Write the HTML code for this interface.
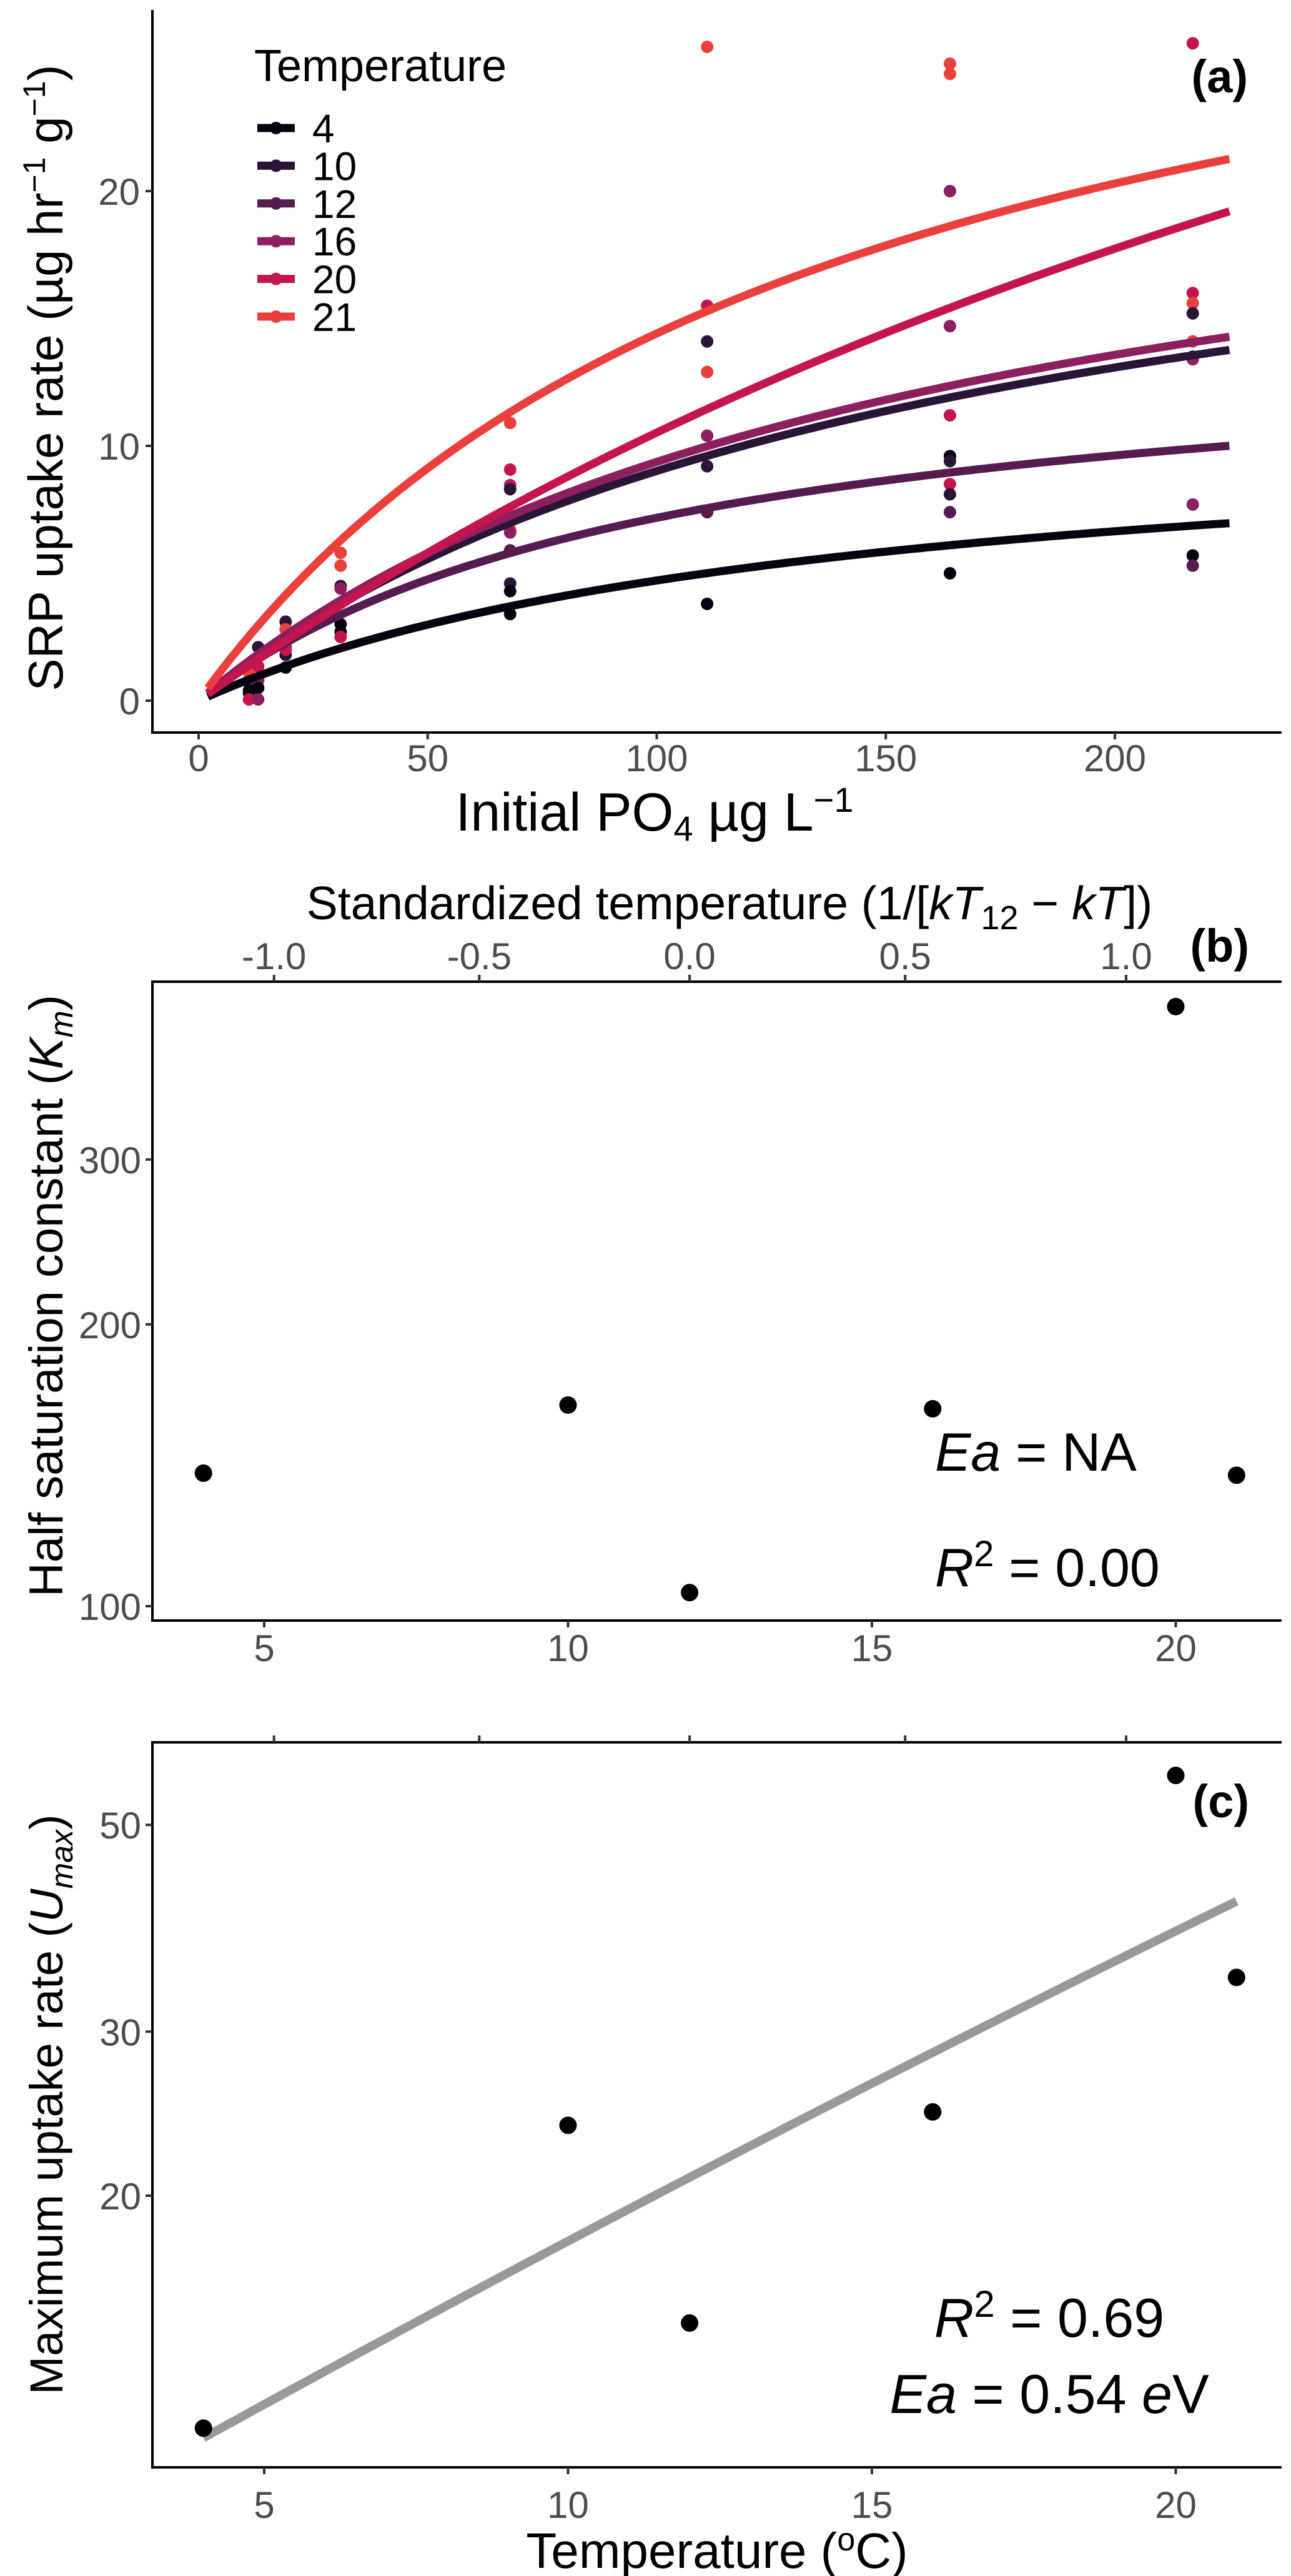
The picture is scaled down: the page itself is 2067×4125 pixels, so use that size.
<!DOCTYPE html>
<html><head><meta charset="utf-8">
<style>
html,body{margin:0;padding:0;background:#fff;}
svg{display:block;font-family:"Liberation Sans",Arial,sans-serif;}
.tick{fill:#4d4d4d;font-size:60px;}
.title{fill:#000;font-size:74px;}
</style></head>
<body>
<svg id="fig" width="2067" height="4125" viewBox="0 0 2067 4125" xmlns="http://www.w3.org/2000/svg">
<g id="pa"></g>
<g id="pb"></g>
<g id="pc"></g>
</svg>
<script>
// ---------- data ----------
const temps = [4, 10, 12, 16, 20, 21];
const tempColors = ["#05030f", "#2b1537", "#561c4f", "#8e1f5e", "#c4154f", "#e9403e"];
const kmValues = [138.7, 164, 103.4, 162.5, 437, 138];
const umaxValues = [11.26, 23.8, 14.6, 24.6, 56.5, 34.3];
// scatter points panel a: [initial PO4, temperature, uptake]
const obsX = [11,11,11,11,11, 13,13,13,13,13, 19,19,19,19,19,19, 31,31,31,31,31,31,31,
  68,68,68,68,68,68,68,68,68,68, 111,111,111,111,111,111,111,111,
  164,164,164,164,164,164,164,164,164,164,164, 217,217,217,217,217,217,217,217,217,217];
const obsT = [21,12,4,4,20, 10,20,16,4,16, 10,21,16,10,4,20, 21,21,10,16,4,4,20,
  21,20,20,10,21,16,12,10,4,4, 21,20,10,21,16,10,12,4,
  21,21,16,16,20,4,10,20,10,12,4, 20,20,21,10,21,4,16,16,4,12];
const obsY = [1.1,0.7,0.4,0.3,0.05, 2.1,1.35,0.8,0.5,0.05, 3.1,2.8,2.1,1.8,1.3,2.0, 5.8,5.3,4.5,4.4,3.0,2.7,2.5,
  10.9,9.07,8.46,8.3,6.7,6.6,5.9,4.6,4.3,3.4, 25.66,15.5,14.1,12.9,10.4,9.2,7.4,3.8,
  25.0,24.6,20.0,14.7,11.2,9.6,9.4,8.5,8.1,7.4,5.0, 25.8,16.0,15.6,15.2,14.1,13.5,13.4,7.7,5.7,5.3];
const aXTicks = [0, 50, 100, 150, 200];
const aYTicks = [0, 10, 20];
const bcXTicks = [5, 10, 15, 20];
const stdTicks = [-1.0, -0.5, 0.0, 0.5, 1.0];
const stdTickLabels = ["-1.0", "-0.5", "0.0", "0.5", "1.0"];
const bYTicks = [100, 200, 300];
const cYTicks = [20, 30, 50];

// ---------- helpers ----------
const NS = "http://www.w3.org/2000/svg";
function mk(parent, tag, attrs, text){
  const e = document.createElementNS(NS, tag);
  for (const k in attrs) e.setAttribute(k, attrs[k]);
  if (text !== undefined) e.textContent = text;
  parent.appendChild(e);
  return e;
}
const L = 244, R = 2052;
const ax = v => 318 + v * 7.335;
const ay = v => 1122 - v * 40.8;
const tx = T => 423 + (T - 5) * 97.3;
const by = v => 2572 - 651 * Math.log(v / 100);
const cy = v => 3516 - 648 * Math.log(v / 20);
const kB = 8.617e-5, T12K = 285.15;
const stdToT = s => 1 / (kB * (1 / (kB * T12K) - s)) - 273.15;
const tToStd = T => 1 / (kB * T12K) - 1 / (kB * (T + 273.15));

// ---------- panel a ----------
const pa = document.getElementById('pa');
let e;
e = mk(pa, 'path', {d:`M${L},16 V1173 H${R}`, fill:'none', stroke:'#000', 'stroke-width':4});


aYTicks.forEach(v => {
  e = mk(pa, 'line', {x1:L-11, x2:L, y1:ay(v), y2:ay(v), stroke:'#333', 'stroke-width':4});
  
  
  e = mk(pa, 'text', {x:L-20, y:ay(v)+22, 'text-anchor':'end', class:'tick'}, String(v));
  
  
});
aXTicks.forEach(v => {
  e = mk(pa, 'line', {x1:ax(v), x2:ax(v), y1:1173, y2:1184, stroke:'#333', 'stroke-width':4});
  
  
  e = mk(pa, 'text', {x:ax(v), y:1235, 'text-anchor':'middle', class:'tick'}, String(v));
  
  
});
obsX.forEach((x, i) => {
  const ci = temps.indexOf(obsT[i]);
  e = mk(pa, 'circle', {cx:ax(x), cy:ay(obsY[i]), r:10, fill:tempColors[ci]});
  
  
});
temps.forEach((T, i) => {
  let d = '';
  for (let s = 2; s <= 225; s += 1) {
    const u = umaxValues[i] * s / (kmValues[i] + s);
    d += (s === 2 ? 'M' : 'L') + ax(s).toFixed(1) + ',' + ay(u).toFixed(1);
  }
  e = mk(pa, 'path', {d:d, fill:'none', stroke:tempColors[i], 'stroke-width':13});
  
  
});
e = mk(pa, 'text', {x:407, y:130, style:'font-size:72px'}, 'Temperature');


temps.forEach((T, i) => {
  const yy = 205 + i * 60.4;
  e = mk(pa, 'line', {x1:412, x2:472, y1:yy, y2:yy, stroke:tempColors[i], 'stroke-width':13});
  
  
  e = mk(pa, 'circle', {cx:442, cy:yy, r:10, fill:tempColors[i]});
  
  
  e = mk(pa, 'text', {x:500, y:yy+23, style:'font-size:64px'}, String(T));
  
  
});
e = mk(pa, 'text', {x:1998, y:148, 'text-anchor':'end', style:'font-size:74px;font-weight:bold'}, '(a)');


e = mk(pa, 'text', {x:0, y:0, transform:'translate(100,605) rotate(-90)', 'text-anchor':'middle', class:'title', style:'font-size:78px'});
e.innerHTML = 'SRP uptake rate (µg hr<tspan dy="-28" font-size="50">−1</tspan><tspan dy="28"> g</tspan><tspan dy="-28" font-size="50">−1</tspan><tspan dy="28">)</tspan>';


e = mk(pa, 'text', {x:1048, y:1330, 'text-anchor':'middle', class:'title', style:'font-size:86px'});
e.innerHTML = 'Initial PO<tspan dy="16" font-size="56">4</tspan><tspan dy="-16"> µg L</tspan><tspan dy="-30" font-size="56">−1</tspan>';



// ---------- panel b ----------
const pb = document.getElementById('pb');
e = mk(pb, 'path', {d:`M${R},1572 H${L} V2595 H${R}`, fill:'none', stroke:'#000', 'stroke-width':4});


stdTicks.forEach((s, i) => {
  const x = tx(stdToT(s));
  e = mk(pb, 'line', {x1:x, x2:x, y1:1561, y2:1572, stroke:'#333', 'stroke-width':4});
  
  
  e = mk(pb, 'text', {x:x, y:1552, 'text-anchor':'middle', class:'tick'}, stdTickLabels[i]);
  
  
});
bcXTicks.forEach(v => {
  e = mk(pb, 'line', {x1:tx(v), x2:tx(v), y1:2595, y2:2606, stroke:'#333', 'stroke-width':4});
  
  
  e = mk(pb, 'text', {x:tx(v), y:2660, 'text-anchor':'middle', class:'tick'}, String(v));
  
  
});
bYTicks.forEach(v => {
  e = mk(pb, 'line', {x1:L-11, x2:L, y1:by(v), y2:by(v), stroke:'#333', 'stroke-width':4});
  
  
  e = mk(pb, 'text', {x:L-18, y:by(v)+22, 'text-anchor':'end', class:'tick'}, String(v));
  
  
});
temps.forEach((T, i) => {
  e = mk(pb, 'circle', {cx:tx(T), cy:by(kmValues[i]), r:14, fill:'#000'});
  
  
});
e = mk(pb, 'text', {x:1168, y:1472, 'text-anchor':'middle', class:'title', style:'font-size:75px'});
e.innerHTML = 'Standardized temperature (1/[<tspan font-style="italic">kT</tspan><tspan dy="16" font-size="54">12</tspan><tspan dy="-16"> − </tspan><tspan font-style="italic">kT</tspan>])';


e = mk(pb, 'text', {x:2000, y:1540, 'text-anchor':'end', style:'font-size:74px;font-weight:bold'}, '(b)');


e = mk(pb, 'text', {x:0, y:0, transform:'translate(100,2075) rotate(-90)', 'text-anchor':'middle', class:'title', style:'font-size:76px'});
e.innerHTML = 'Half saturation constant (<tspan font-style="italic">K</tspan><tspan dy="16" font-size="52" font-style="italic">m</tspan><tspan dy="-16">)</tspan>';


e = mk(pb, 'text', {x:1497, y:2355, style:'font-size:86px'});
e.innerHTML = '<tspan font-style="italic">Ea</tspan> = NA';


e = mk(pb, 'text', {x:1497, y:2540, style:'font-size:86px'});
e.innerHTML = '<tspan font-style="italic">R</tspan><tspan dy="-32" font-size="58">2</tspan><tspan dy="32"> = 0.00</tspan>';



// ---------- panel c ----------
const pc = document.getElementById('pc');
e = mk(pc, 'path', {d:`M${R},2790 H${L} V3951 H${R}`, fill:'none', stroke:'#000', 'stroke-width':4});


stdTicks.forEach(s => {
  const x = tx(stdToT(s));
  e = mk(pc, 'line', {x1:x, x2:x, y1:2779, y2:2790, stroke:'#333', 'stroke-width':4});
  
  
});
bcXTicks.forEach(v => {
  e = mk(pc, 'line', {x1:tx(v), x2:tx(v), y1:3951, y2:3962, stroke:'#333', 'stroke-width':4});
  
  
  e = mk(pc, 'text', {x:tx(v), y:4032, 'text-anchor':'middle', class:'tick'}, String(v));
  
  
});
cYTicks.forEach(v => {
  e = mk(pc, 'line', {x1:L-11, x2:L, y1:cy(v), y2:cy(v), stroke:'#333', 'stroke-width':4});
  
  
  e = mk(pc, 'text', {x:L-18, y:cy(v)+22, 'text-anchor':'end', class:'tick'}, String(v));
  
  
});
(function(){
  const xs = temps.map(tToStd), ys = umaxValues.map(Math.log);
  const n = xs.length, mx = xs.reduce((a,b)=>a+b)/n, my = ys.reduce((a,b)=>a+b)/n;
  let sxy = 0, sxx = 0;
  xs.forEach((x,i)=>{ sxy += (x-mx)*(ys[i]-my); sxx += (x-mx)*(x-mx); });
  const b = sxy/sxx, a = my - b*mx;
  let d = '';
  const t0 = Math.min(...temps), t1 = Math.max(...temps);
  for (let k = 0; k <= 40; k++) {
    const T = t0 + (t1 - t0) * k / 40;
    const u = Math.exp(a + b * tToStd(T));
    d += (k ? 'L' : 'M') + tx(T).toFixed(1) + ',' + cy(u).toFixed(1);
  }
  const ln = mk(pc, 'path', {d:d, fill:'none', stroke:'#999999', 'stroke-width':14});
  
  
})();
temps.forEach((T, i) => {
  e = mk(pc, 'circle', {cx:tx(T), cy:cy(umaxValues[i]), r:14, fill:'#000'});
  
  
});
e = mk(pc, 'text', {x:2000, y:2910, 'text-anchor':'end', style:'font-size:74px;font-weight:bold'}, '(c)');


e = mk(pc, 'text', {x:0, y:0, transform:'translate(100,3370) rotate(-90)', 'text-anchor':'middle', class:'title', style:'font-size:74px'});
e.innerHTML = 'Maximum uptake rate (<tspan font-style="italic">U</tspan><tspan dy="16" font-size="50" font-style="italic">max</tspan><tspan dy="-16">)</tspan>';


e = mk(pc, 'text', {x:1680, y:3742, 'text-anchor':'middle', style:'font-size:88px'});
e.innerHTML = '<tspan font-style="italic">R</tspan><tspan dy="-32" font-size="60">2</tspan><tspan dy="32"> = 0.69</tspan>';


e = mk(pc, 'text', {x:1680, y:3864, 'text-anchor':'middle', style:'font-size:88px'});
e.innerHTML = '<tspan font-style="italic">Ea</tspan> = 0.54 <tspan font-style="italic">e</tspan>V';


e = mk(pc, 'text', {x:1148, y:4112, 'text-anchor':'middle', class:'title', style:'font-size:80px'});
e.innerHTML = 'Temperature (<tspan dy="-28" font-size="52">o</tspan><tspan dy="28">C)</tspan>';


</script>
</body></html>
